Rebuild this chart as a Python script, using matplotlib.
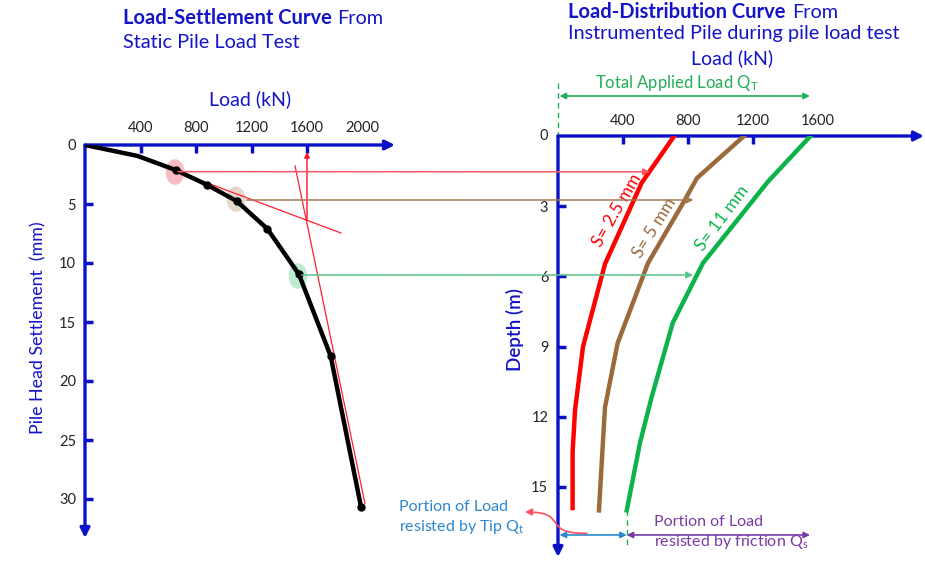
import matplotlib
matplotlib.use("Agg")
import matplotlib.pyplot as plt
from matplotlib.patches import Ellipse, ConnectionPatch, FancyArrowPatch
from matplotlib.path import Path

plt.rcParams['font.family'] = ['Lato', 'DejaVu Sans']
plt.rcParams['mathtext.default'] = 'regular'

W, H = 925, 573
BLUE = '#0a12c8'
TITLE = '#1414c8'

# ---------------- data ----------------
# Load-settlement curve (static load test)
ls_load = [0, 380, 653, 877, 1093, 1314, 1542, 1771, 1989]
ls_settle = [0, 0.93, 2.12, 3.36, 4.75, 7.1, 10.96, 17.9, 30.65]
ls_xticks = [400, 800, 1200, 1600, 2000]
ls_yticks = [0, 5, 10, 15, 20, 25, 30]

# construction lines (tangents) on load-settlement curve
tan1_load = [382, 1845]
tan1_settle = [1.02, 7.46]
tan2_load = [1514, 2018]
tan2_settle = [1.78, 30.4]
fail_load = 1600
fail_settle = [6.36, 0.6]

# highlighted settlement points: (load, settlement)
hl_load = [649, 1088, 1535]
hl_settle = [2.29, 4.58, 11.1]
hl_colors = ['#f8bcc3', '#e4d8cb', '#bfead0']

# load-distribution curves (instrumented pile)
depth_red = [0, 2.0, 5.47, 9.0, 11.7, 13.5, 15.9]
load_red = [715, 515, 289, 154, 105, 90, 90]
depth_brown = [0, 1.8, 2.8, 5.43, 8.85, 11.6, 16.0]
load_brown = [1145, 855, 775, 554, 367, 289, 252]
depth_green = [0, 1.95, 5.43, 7.99, 11.14, 13.1, 16.0]
load_green = [1554, 1292, 892, 706, 577, 505, 423]
ld_xticks = [0, 400, 800, 1200, 1600]
ld_yticks = [0, 3, 6, 9, 12, 15]
curve_labels = ['S= 2.5 mm', 'S= 5 mm', 'S= 11 mm']

# transfer arrows: (load, settlement) -> (load, depth)
tr_left_load = [670, 1165, 1562]
tr_left_settle = [2.26, 4.66, 11.02]
tr_right_load = [566, 833, 831]
tr_right_depth = [1.53, 2.735, 5.94]
tr_colors = ['#ff5566', '#a47a50', '#5cc48a']

# annotation levels on load-distribution chart
total_load = 1550
total_depth = -1.71
tip_load = 423
base_depth = 17.05
dash_bottom = 17.6
# curved pointer to tip text (load, depth) cubic path
tip_ptr_load = [177, -111, 74, -203]
tip_ptr_depth = [16.98, 17.0, 16.07, 16.07]

fig = plt.figure(figsize=(W / 100, H / 100), dpi=100)


def fx(px):
    return px / W


def fy(py):
    return 1 - py / H


# ---------------- left axes ----------------
L_x0, L_x1, L_y0, L_y1 = 85, 395, 145, 538
ax1 = fig.add_axes([fx(L_x0), fy(L_y1), (L_x1 - L_x0) / W, (L_y1 - L_y0) / H])
ax1.set_xlim(0, (L_x1 - L_x0) / 0.13875)
ax1.set_ylim((L_y1 - L_y0) / 11.8, 0)
ax1.patch.set_alpha(0)

# ---------------- right axes ----------------
R_x0, R_x1, R_y0, R_y1 = 558, 924, 136, 557
ax2 = fig.add_axes([fx(R_x0), fy(R_y1), (R_x1 - R_x0) / W, (R_y1 - R_y0) / H])
ax2.set_xlim(0, (R_x1 - R_x0) / 0.1625)
ax2.set_ylim((R_y1 - R_y0) / 23.4, 0)
ax2.patch.set_alpha(0)

for ax, xt, yt, xpad, ypad in [(ax1, ls_xticks, ls_yticks, 7, 6.5),
                               (ax2, ld_xticks, ld_yticks, 6, 7)]:
    for s in ax.spines.values():
        s.set_visible(False)
    ax.xaxis.tick_top()
    ax.set_xticks(xt)
    ax.set_xticklabels([str(v) for v in xt])
    ax.set_yticks(yt)
    ax.set_yticklabels([str(v) for v in yt])
    ax.tick_params(axis='both', direction='in', length=6, width=2.5, color=BLUE,
                   labelsize=10.5, labelcolor='#222222')
    ax.tick_params(axis='x', pad=xpad)
    ax.tick_params(axis='y', pad=ypad)
    # axis lines with arrows
    ax.annotate('', xy=(1, 1), xytext=(0, 1), xycoords='axes fraction',
                arrowprops=dict(arrowstyle='-|>', lw=2.4, color=BLUE,
                                mutation_scale=14, shrinkA=0, shrinkB=0))
    ax.annotate('', xy=(0, 0), xytext=(0, 1), xycoords='axes fraction',
                arrowprops=dict(arrowstyle='-|>', lw=2.4, color=BLUE,
                                mutation_scale=14, shrinkA=0, shrinkB=0))

# hide unwanted tick marks
for t in ax1.yaxis.get_major_ticks():
    if t.get_loc() == 0:
        t.tick1line.set_visible(False)
for t in ax1.xaxis.get_major_ticks():
    if t.get_loc() == 2000:
        t.tick2line.set_visible(False)
for t in ax2.yaxis.get_major_ticks():
    if t.get_loc() == 0:
        t.tick1line.set_visible(False)
for t in ax2.xaxis.get_major_ticks():
    if t.get_loc() in (0, 1600):
        t.tick2line.set_visible(False)
ax2.xaxis.get_major_ticks()[0].label2.set_visible(False)
ax2.yaxis.get_major_ticks()[0].label1.set_visible(False)
ax2.text(-60, 0, '0', ha='right', va='center', fontsize=10.5, color='#222222', clip_on=False)

# ---------------- left chart content ----------------
for lx, ly, c in zip(hl_load, hl_settle, hl_colors):
    ax1.add_patch(Ellipse((lx, ly), 125, 2.05, color=c, zorder=1))

ax1.plot(tan1_load, tan1_settle, color='#ff2030', lw=0.9, zorder=2)
ax1.plot(tan2_load, tan2_settle, color='#ff2030', lw=0.9, zorder=2)
ax1.annotate('', xy=(fail_load, fail_settle[1]), xytext=(fail_load, fail_settle[0]),
             arrowprops=dict(arrowstyle='-|>', color='#ff1020', lw=1.0,
                             mutation_scale=8, shrinkA=0, shrinkB=0))
ax1.plot(ls_load, ls_settle, color='black', lw=3.2, zorder=3,
         marker='o', markersize=5, markevery=list(range(2, len(ls_load))),
         solid_capstyle='round')

fig.text(fx(250), fy(99), 'Load (kN)', ha='center', va='center', fontsize=14, color=TITLE)
fig.text(fx(38), fy(328), 'Pile Head Settlement  (mm)', ha='center', va='center',
         rotation=90, fontsize=12.8, color=TITLE)

# ---------------- right chart content ----------------
ax2.plot(load_red, depth_red, color='#ff0000', lw=3.2, zorder=3)
ax2.plot(load_brown, depth_brown, color='#9b6a3c', lw=3.2, zorder=3)
ax2.plot(load_green, depth_green, color='#0db24a', lw=3.2, zorder=3)

lab_pos = [(617, 210, 60, '#ff0000'), (655, 228, 58, '#9b6a3c'), (722, 218, 53, '#0db24a')]
for txt, (px, py, ang, c) in zip(curve_labels, lab_pos):
    fig.text(fx(px), fy(py), txt, ha='center', va='center', rotation=ang,
             fontsize=12.5, color=c)

# total applied load
ax2.plot([0, 0], [total_depth - 0.55, 0], color='#1fae55', lw=1, ls=(0, (4, 3)), clip_on=False)
ax2.annotate('', xy=(total_load, total_depth), xytext=(10, total_depth),
             xycoords='data', annotation_clip=False,
             arrowprops=dict(arrowstyle='<|-|>', color='#1fae55', lw=1.2,
                             mutation_scale=9, shrinkA=0, shrinkB=0))
fig.text(fx(677), fy(83), 'Total Applied Load Q$_T$', ha='center', va='center',
         fontsize=12, color='#1fae55')

# tip / friction portions
ax2.plot([tip_load, tip_load], [depth_green[-1], dash_bottom], color='#1fae55',
         lw=1, ls=(0, (4, 3)), clip_on=False)
ax2.annotate('', xy=(tip_load, base_depth), xytext=(10, base_depth),
             annotation_clip=False,
             arrowprops=dict(arrowstyle='<|-|>', color='#2b87cf', lw=1.2,
                             mutation_scale=9, shrinkA=0, shrinkB=0))
ax2.annotate('', xy=(1551, base_depth), xytext=(tip_load, base_depth),
             annotation_clip=False,
             arrowprops=dict(arrowstyle='<|-|>', color='#7a3aa6', lw=1.2,
                             mutation_scale=9, shrinkA=0, shrinkB=0))
ptr_path = Path(list(zip(tip_ptr_load, tip_ptr_depth)),
                [Path.MOVETO, Path.CURVE4, Path.CURVE4, Path.CURVE4])
ptr = FancyArrowPatch(path=ptr_path, arrowstyle='-|>', color='#ff5060', lw=1.2,
                      mutation_scale=10, clip_on=False, zorder=4)
ax2.add_patch(ptr)

fig.text(fx(399), fy(507), 'Portion of Load', ha='left', va='center', fontsize=11.5, color='#2d86cf')
fig.text(fx(399), fy(527), 'resisted by Tip Q$_t$', ha='left', va='center', fontsize=11.5, color='#2d86cf')
fig.text(fx(654), fy(522), 'Portion of Load', ha='left', va='center', fontsize=11.5, color='#7a3aa6')
fig.text(fx(654), fy(542), 'resisted by friction Q$_s$', ha='left', va='center', fontsize=11.5, color='#7a3aa6')

fig.text(fx(515), fy(330), 'Depth (m)', ha='center', va='center', rotation=90,
         fontsize=13.5, color=TITLE, fontweight='semibold')
fig.text(fx(732), fy(58), 'Load (kN)', ha='center', va='center', fontsize=14, color=TITLE)

# ---------------- transfer arrows ----------------
for ll, ls, rl, rd, c in zip(tr_left_load, tr_left_settle, tr_right_load, tr_right_depth, tr_colors):
    con = ConnectionPatch(xyA=(ll, ls), coordsA='data', axesA=ax1,
                          xyB=(rl, rd), coordsB='data', axesB=ax2,
                          arrowstyle='-|>', color=c, lw=1.1, mutation_scale=10,
                          shrinkA=0, shrinkB=0, zorder=5)
    fig.add_artist(con)

# ---------------- titles ----------------
fig.text(fx(123), fy(18), 'Load-Settlement Curve', ha='left', va='center',
         fontsize=14.5, fontweight='bold', color=TITLE)
fig.text(fx(337), fy(18), 'From', ha='left', va='center', fontsize=14.3, color=TITLE)
fig.text(fx(123), fy(43), 'Static Pile Load Test', ha='left', va='center', fontsize=14.3, color=TITLE)

fig.text(fx(568), fy(12), 'Load-Distribution Curve', ha='left', va='center',
         fontsize=14.5, fontweight='bold', color=TITLE)
fig.text(fx(792), fy(12), 'From', ha='left', va='center', fontsize=14.3, color=TITLE)
fig.text(fx(568), fy(33), 'Instrumented Pile during pile load test', ha='left', va='center',
         fontsize=14.3, color=TITLE)

fig.savefig('out.png', dpi=100)
